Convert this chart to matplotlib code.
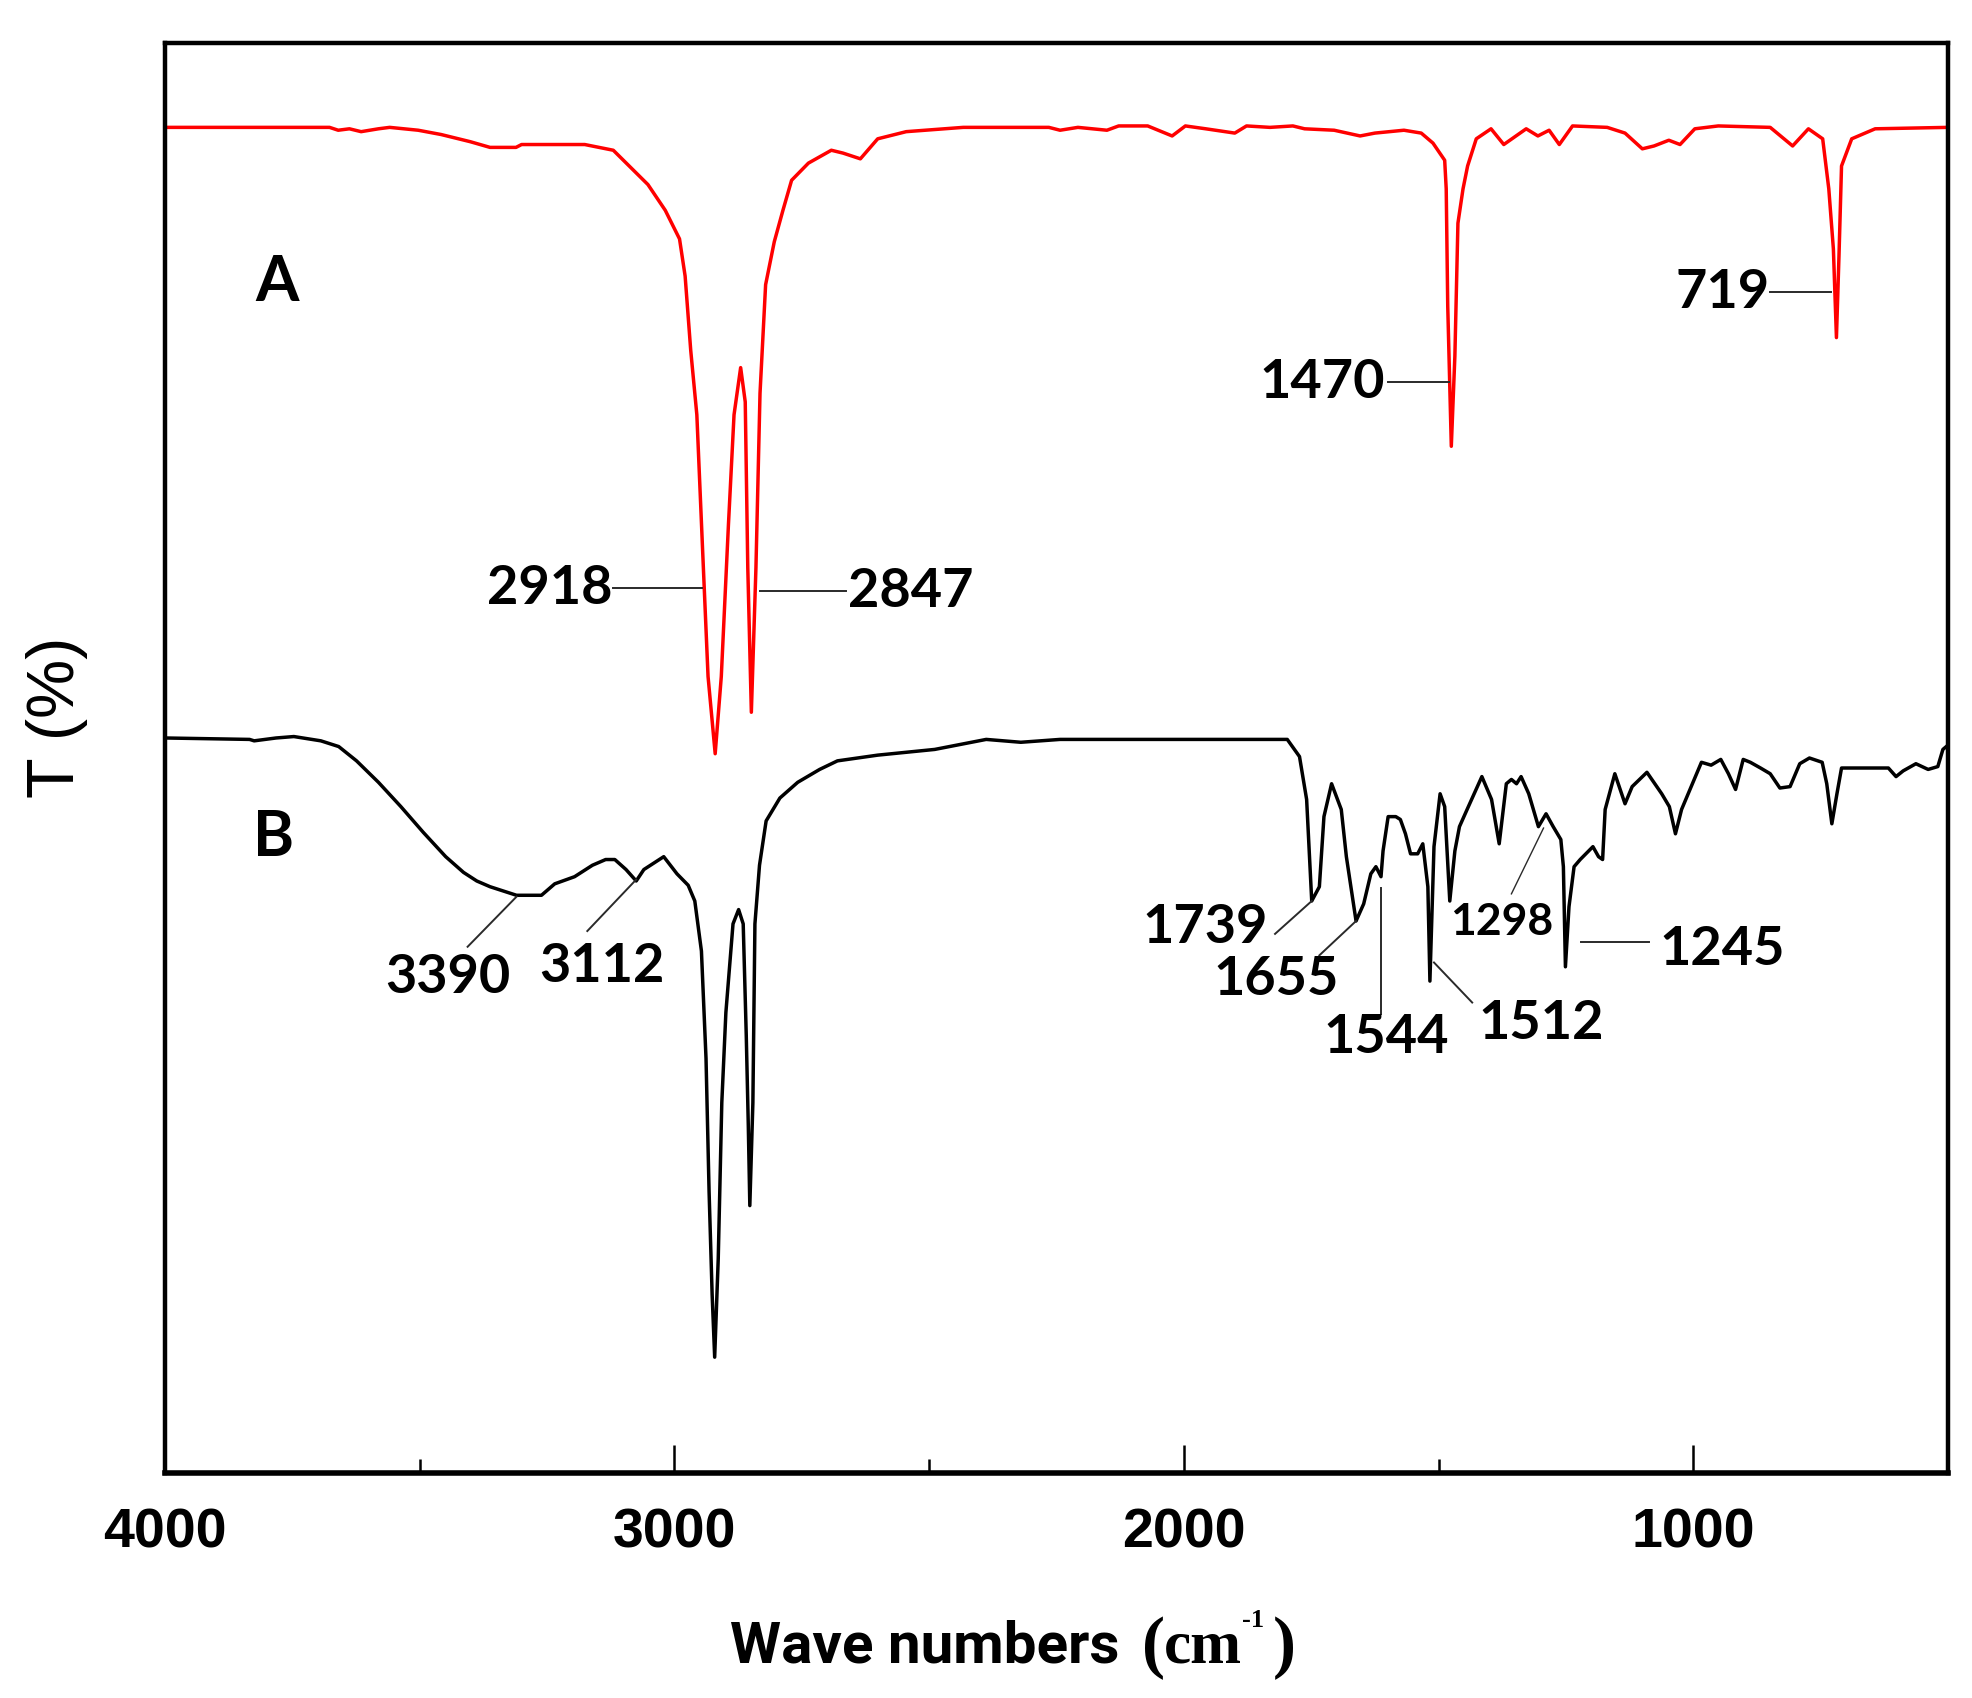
import matplotlib
matplotlib.use("Agg")
import matplotlib.pyplot as plt
import numpy as np

# spectrum A (red) - wavenumber (cm-1) and transmittance (arbitrary %, offset)
wn_A = [4000, 3677, 3660, 3638, 3615, 3581, 3559, 3503, 3458, 3401, 3362, 3311, 3300, 3176,
        3120, 3086, 3052, 3018, 2990, 2979, 2968, 2956, 2945, 2934, 2920, 2908, 2894, 2883,
        2870, 2861, 2856, 2849, 2840, 2832, 2821, 2804, 2787, 2770, 2737, 2692, 2669, 2635,
        2601, 2545, 2433, 2265, 2243, 2208, 2151, 2128, 2071, 2023, 1997, 1957, 1900, 1877,
        1831, 1786, 1763, 1705, 1654, 1625, 1568, 1534, 1511, 1488, 1485, 1482, 1475, 1468,
        1462, 1452, 1443, 1426, 1397, 1372, 1328, 1305, 1283, 1263, 1237, 1169, 1134, 1100,
        1077, 1048, 1026, 997, 951, 849, 805, 774, 746, 734, 725, 719, 714, 709, 689, 643, 500]
T_A = [94.1, 94.1, 93.9, 94.0, 93.8, 94.0, 94.1, 93.9, 93.6, 93.1, 92.7, 92.7, 92.9, 92.9,
       92.5, 91.3, 90.1, 88.3, 86.3, 83.7, 78.5, 74.0, 64.8, 55.7, 50.3, 55.7, 66.3, 74.0,
       77.3, 74.9, 63.3, 53.2, 63.3, 75.5, 83.1, 86.1, 88.3, 90.4, 91.6, 92.5, 92.3, 91.9,
       93.3, 93.8, 94.1, 94.1, 93.9, 94.1, 93.9, 94.2, 94.2, 93.5, 94.2, 94.0, 93.7, 94.2,
       94.1, 94.2, 94.0, 93.9, 93.5, 93.7, 93.9, 93.7, 93.0, 91.8, 89.8, 81.6, 71.8, 78.1,
       87.4, 89.8, 91.4, 93.3, 94.0, 92.9, 94.0, 93.5, 93.9, 92.9, 94.2, 94.1, 93.7, 92.6,
       92.8, 93.2, 92.9, 94.0, 94.2, 94.1, 92.8, 94.0, 93.3, 89.8, 85.6, 79.4, 85.1, 91.4, 93.3, 94.0, 94.1]

# spectrum B (black)
wn_B = [4000, 3834, 3825, 3782, 3747, 3694, 3659, 3624, 3581, 3537, 3493, 3449, 3414, 3388,
        3362, 3310, 3261, 3235, 3196, 3161, 3135, 3117, 3095, 3075, 3060, 3021, 2995, 2973,
        2960, 2947, 2938, 2932, 2926, 2921, 2914, 2907, 2899, 2885, 2874, 2865, 2859, 2855,
        2852, 2846, 2842, 2833, 2820, 2793, 2758, 2715, 2680, 2601, 2489, 2388, 2320, 2243,
        1972, 1797, 1773, 1759, 1749, 1734, 1725, 1710, 1691, 1681, 1662, 1647, 1633, 1623,
        1613, 1609, 1599, 1584, 1575, 1565, 1555, 1541, 1531, 1521, 1517, 1509, 1497, 1488,
        1478, 1468, 1459, 1444, 1415, 1396, 1381, 1367, 1357, 1347, 1338, 1323, 1304, 1289,
        1275, 1260, 1255, 1251, 1244, 1234, 1222, 1197, 1186, 1178, 1173, 1154, 1134, 1120,
        1091, 1062, 1047, 1035, 1023, 1004, 984, 965, 946, 931, 917, 902, 888, 868, 849, 830,
        810, 791, 772, 747, 738, 728, 718, 709, 694, 617, 602, 588, 563, 539, 520, 510, 500]
T_B = [51.4, 51.3, 51.2, 51.4, 51.5, 51.2, 50.8, 49.8, 48.3, 46.6, 44.8, 43.1, 42.0, 41.4,
       41.0, 40.4, 40.4, 41.2, 41.7, 42.5, 42.9, 42.9, 42.2, 41.4, 42.2, 43.1, 41.9, 41.1,
       40.0, 36.5, 29.0, 19.7, 12.5, 8.1, 15.0, 25.9, 32.2, 38.4, 39.4, 38.4, 30.6, 24.3,
       18.7, 25.9, 38.4, 42.5, 45.6, 47.2, 48.3, 49.2, 49.8, 50.2, 50.6, 51.3, 51.1, 51.3,
       51.3, 51.3, 50.1, 47.1, 40.0, 41.0, 45.9, 48.2, 46.4, 43.1, 38.6, 39.8, 41.9, 42.4,
       41.7, 43.5, 45.9, 45.9, 45.7, 44.7, 43.3, 43.3, 44.0, 41.0, 34.4, 43.8, 47.5, 46.6,
       40.0, 43.5, 45.2, 46.4, 48.7, 47.1, 44.0, 48.2, 48.5, 48.2, 48.7, 47.5, 45.2, 46.1,
       45.2, 44.3, 42.4, 35.4, 39.6, 42.4, 42.9, 43.8, 43.1, 42.9, 46.4, 48.9, 46.8, 48.0,
       49.0, 47.5, 46.6, 44.7, 46.4, 48.0, 49.7, 49.5, 49.9, 48.9, 47.8, 49.9, 49.7, 49.3, 48.9, 47.9,
       48.0, 49.6, 50.0, 49.7, 48.2, 45.4, 47.5, 49.3, 49.3, 49.3, 48.7, 49.1, 49.6, 49.2, 49.4, 50.6, 50.9]

# peak labels: text, text position, alignment, leader line (start, end)
labels_A = [("2918", (3122, 61.9), "right", [(3120, 61.9), (2945, 61.9)]),
            ("2847", (2660, 61.7), "left", [(2832, 61.7), (2664, 61.7)]),
            ("1470", (1605, 76.3), "right", [(1600, 76.3), (1479, 76.3)]),
            ("719", (851, 82.6), "right", [(849, 82.6), (729, 82.6)])]
labels_B = [("3390", (3445, 34.7), "center", [(3406, 36.8), (3310, 40.3)]),
            ("3112", (3143, 35.5), "center", [(3171, 37.9), (3075, 41.5)]),
            ("1739", (1836, 38.2), "right", [(1821, 37.7), (1749, 40.0)]),
            ("1655", (1819, 34.6), "center", [(1734, 36.2), (1662, 38.6)]),
            ("1544", (1602, 30.5), "center", [(1613, 32.1), (1613, 40.9)]),
            ("1512", (1299, 31.5), "center", [(1434, 32.9), (1509, 35.7)]),
            ("1245", (944, 36.7), "center", [(1221, 37.1), (1086, 37.1)])]

fig = plt.figure(figsize=(19.72, 16.99), dpi=100)
ax = fig.add_axes([165/1972, 1 - 1474/1699, (1948 - 165)/1972, (1474 - 44)/1699])

ax.plot(wn_A, T_A, color='#ff0000', lw=2.5)
ax.plot(wn_B, T_B, color='black', lw=2.5)

ax.set_xlim(4000, 500)
ax.set_ylim(0, 100)

lab_font = dict(family='Lato', weight='bold', fontsize=39, va='center')
for txt, (x, y), ha, line in labels_A + labels_B:
    ax.text(x, y, txt, ha=ha, **lab_font)
    (x0, y0), (x1, y1) = line
    ax.plot([x0, x1], [y0, y1], color='#2a2a2a', lw=1.4)

# the small 1298 label
ax.text(1376, 38.6, "1298", ha='center', family='Lato', weight='bold', fontsize=32, va='center')
ax.plot([1357, 1294], [40.5, 45.1], color='#2a2a2a', lw=1.0)

ax.text(3781, 83.3, "A", ha='center', va='center', family='Lato', weight='bold', fontsize=45)
ax.text(3786, 44.5, "B", ha='center', va='center', family='Lato', weight='bold', fontsize=45)

for sp in ax.spines.values():
    sp.set_linewidth(3.2)
ax.spines['bottom'].set_linewidth(4)

ax.set_xticks([4000, 3000, 2000, 1000])
ax.set_xticks([3500, 2500, 1500], minor=True)
ax.set_yticks([])
ax.tick_params(axis='x', which='major', direction='in', length=20, width=1.8, pad=24)
ax.tick_params(axis='x', which='minor', direction='in', length=10, width=1.8)
for t in ax.get_xticklabels():
    t.set_family(['Liberation Sans Narrow', 'Liberation Sans'])
    t.set_fontweight('bold')
    t.set_fontsize(40)

fig.text(57/1972, 1 - 717/1699, "T (%)", rotation=90, ha='center', va='center',
         family='Liberation Sans', fontsize=48)

# x label: sans part, then serif "(cm" with a small superscript
serif = dict(family='Liberation Serif', weight='bold', va='baseline', ha='left')
fig.text(730/1972, 1 - 1663/1699, "Wave numbers", ha='left', va='baseline',
         family='Roboto', weight='bold', fontsize=42)
fig.text(1142/1972, 1 - 1665/1699, "(", fontsize=50, **serif)
fig.text(1164/1972, 1 - 1663/1699, "cm", fontsize=44, **serif)
fig.text(1242/1972, 1 - 1627/1699, "-1", fontsize=19, **serif)
fig.text(1273/1972, 1 - 1665/1699, ")", fontsize=50, **serif)

fig.savefig('out.png', dpi=100)
